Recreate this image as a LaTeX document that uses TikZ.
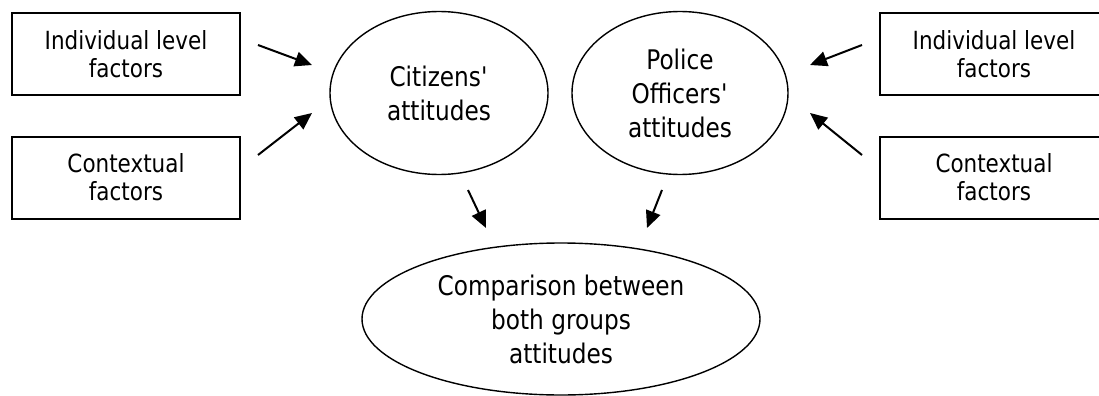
\documentclass[tikz,border=0pt]{standalone}
\usepackage{fontspec}
\setmainfont{DejaVu Sans}[FakeStretch=0.86]
\usetikzlibrary{shapes.geometric,arrows.meta}
\tikzset{
  factor/.style={draw,line width=1pt,minimum width=114pt,minimum height=41pt,
    align=center,font=\fontsize{12.5}{14}\selectfont},
  attitude/.style={draw,ellipse,line width=0.7pt,inner sep=0pt,
    align=center,font=\fontsize{13.5}{17}\selectfont},
  effect/.style={-{Triangle[length=8.5pt,width=7.5pt]},line width=1pt},
}
\begin{document}
\begin{tikzpicture}[x=0.5pt,y=-0.5pt]
    \useasboundingbox (0,0) rectangle (1099,396);
    % the two groups and their comparison
    \node[attitude,minimum width=109pt,minimum height=81.5pt] (cit) at (439,93) {Citizens\textquotesingle\\attitudes};
    \node[attitude,minimum width=108pt,minimum height=81.5pt] (pol) at (680,93) {Police\\Officers\textquotesingle\\attitudes};
    \node[attitude,minimum width=199pt,minimum height=76pt] (comp) at (561,319) {Comparison between\\both groups\\attitudes};
    % factors, left for citizens, right for officers
    \node[factor] (indL) at (126,54) {Individual level\\factors};
    \node[factor] (ctxL) at (126,177.5) {Contextual\\factors};
    \node[factor] (indR) at (994,54) {Individual level\\factors};
    \node[factor] (ctxR) at (994,177.5) {Contextual\\factors};
    % arrow ends
    \coordinate (a1) at (258,45);  \coordinate (b1) at (312,65);
    \coordinate (a2) at (258,155); \coordinate (b2) at (312,113);
    \coordinate (a3) at (862,45);  \coordinate (b3) at (810,65);
    \coordinate (a4) at (862,155); \coordinate (b4) at (810,113);
    \coordinate (a5) at (468,190); \coordinate (b5) at (486,228);
    \coordinate (a6) at (662,190); \coordinate (b6) at (647,228);
    \foreach \i in {1,...,6}
        \draw[effect] (a\i) -- (b\i);
\end{tikzpicture}
\end{document}
